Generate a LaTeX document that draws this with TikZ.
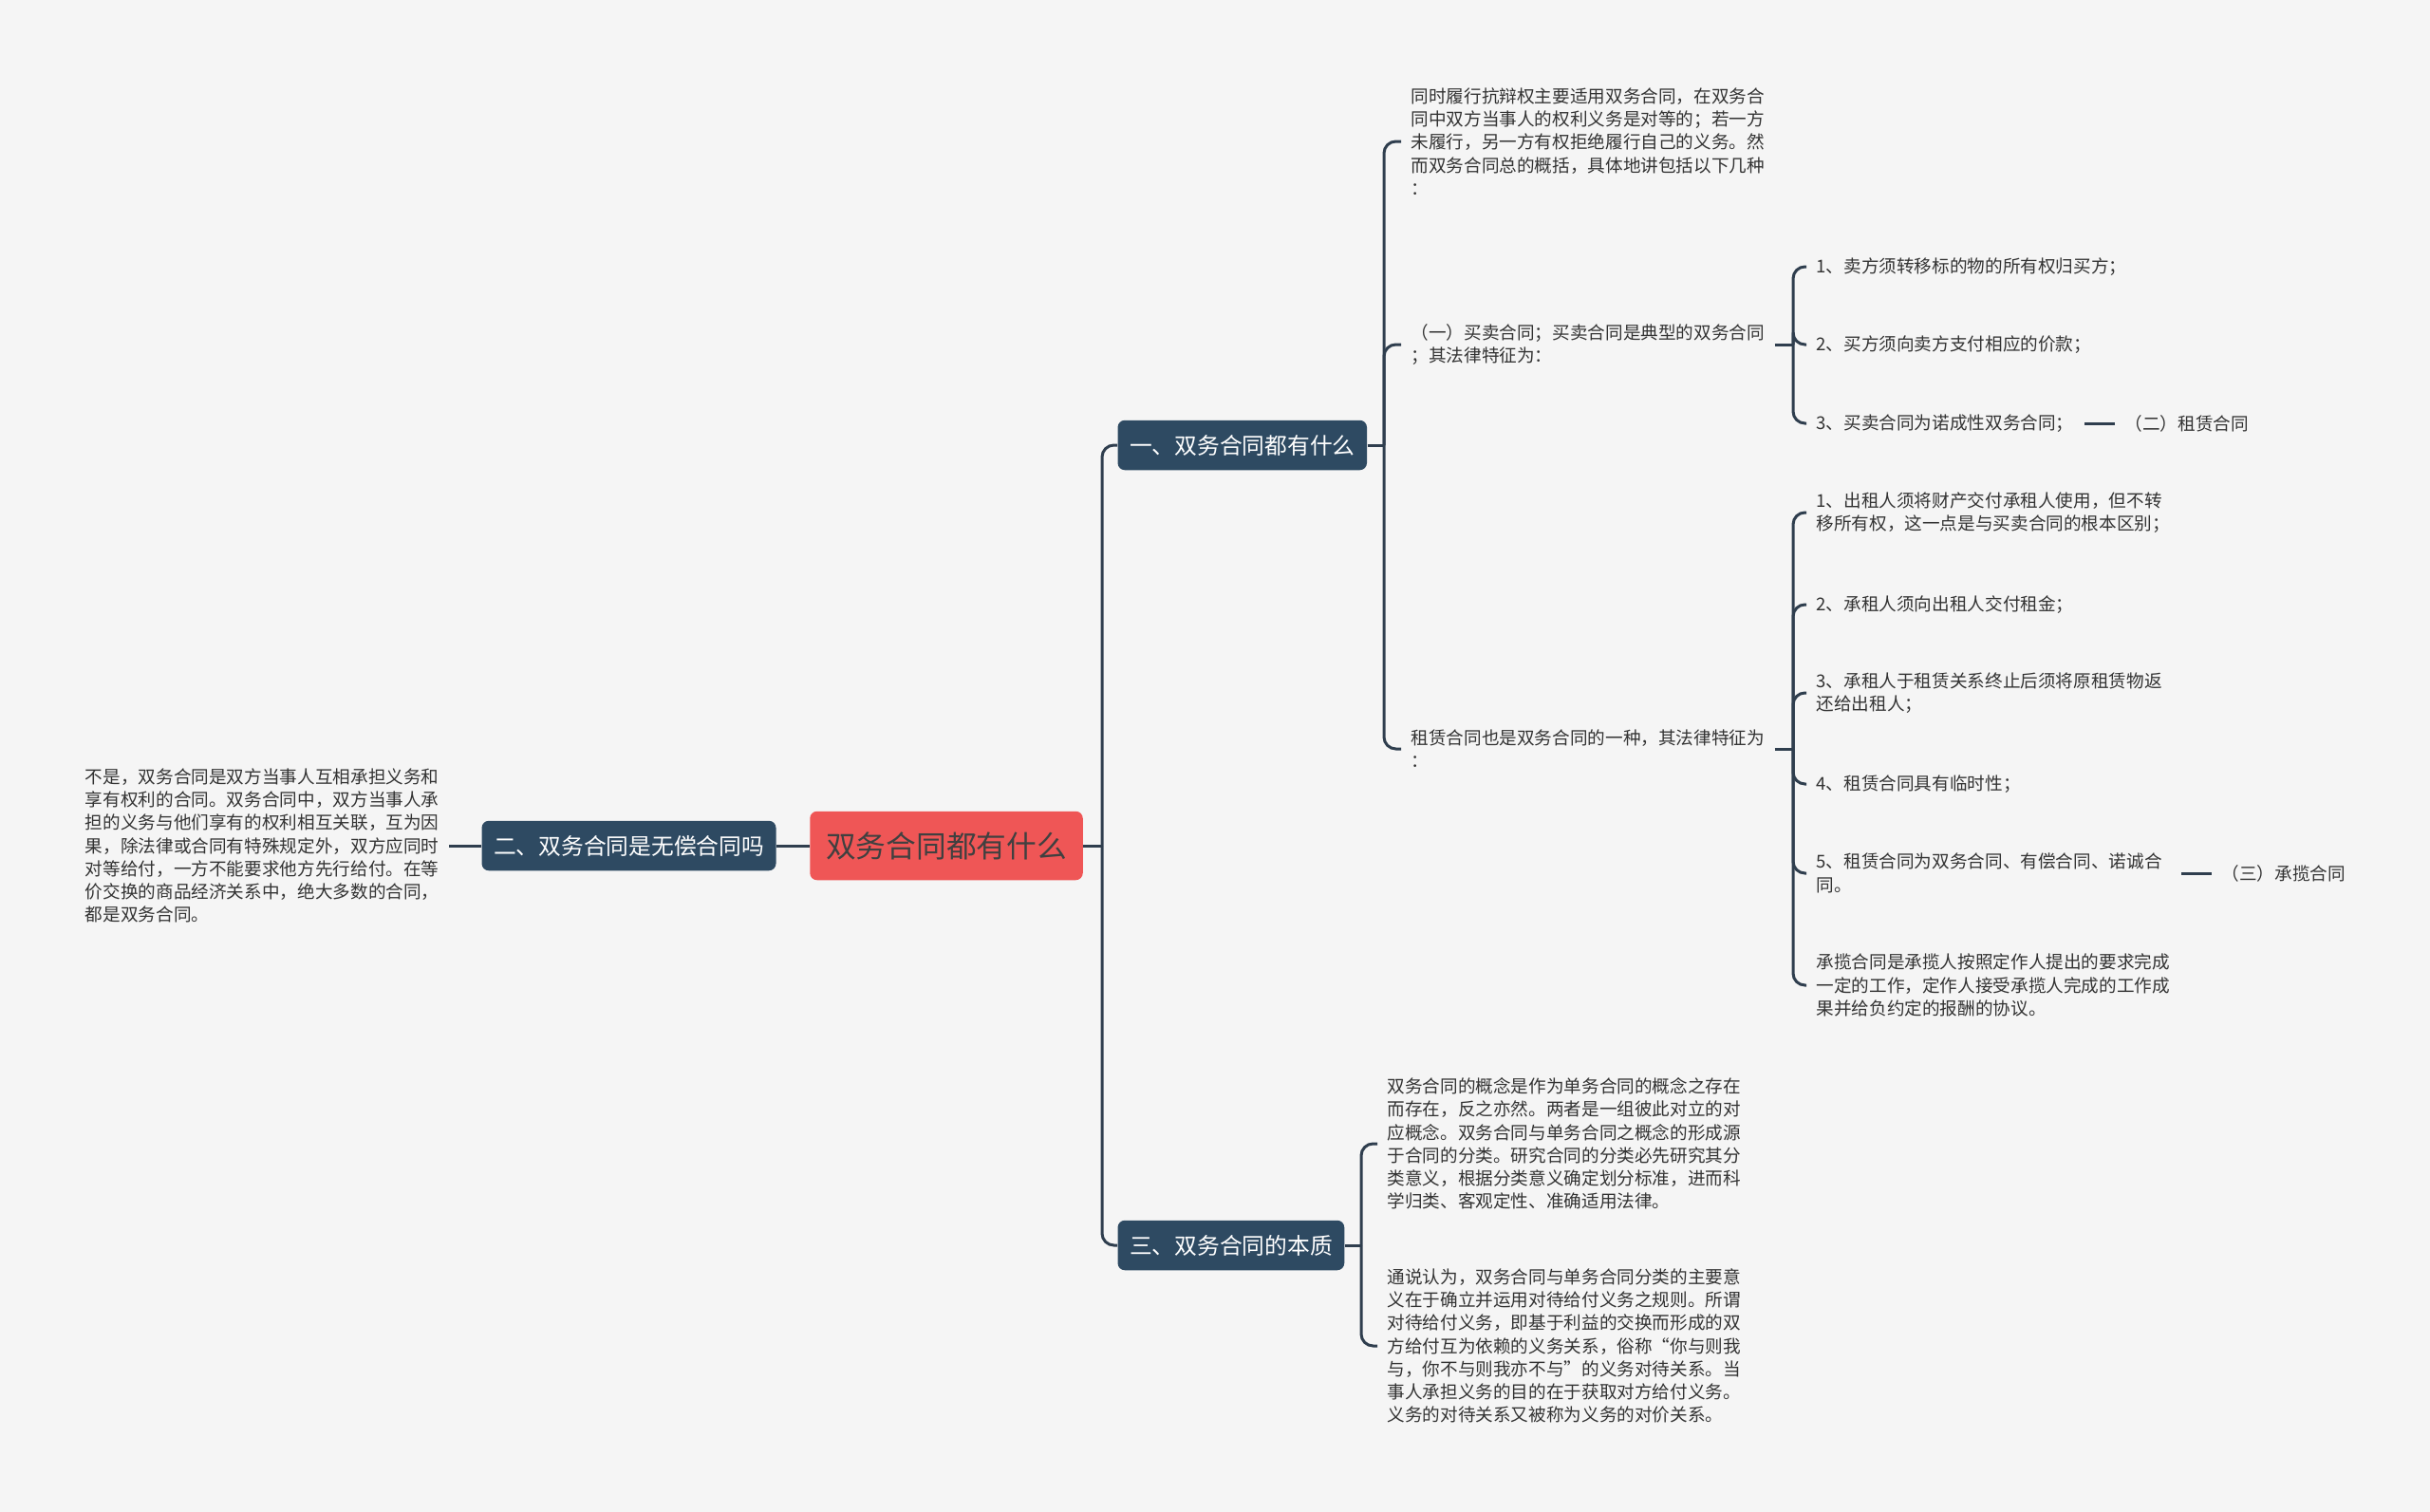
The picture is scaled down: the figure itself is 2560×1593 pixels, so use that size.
\documentclass[tikz,border=0pt]{standalone}
\usepackage{fontspec}
\setmainfont{Noto Sans CJK SC}
\definecolor{bgcol}{HTML}{F5F5F5}
\definecolor{navy}{HTML}{2E4A62}
\definecolor{linecol}{HTML}{2F3E4E}
\definecolor{rootred}{HTML}{EF5656}
\definecolor{txt}{HTML}{333333}

\begin{document}
\begin{tikzpicture}[
    x=0.4pt, y=-0.4pt,
    rootbox/.style={fill=rootred, rounded corners=3pt, text=black!75, minimum width=115pt,
                    minimum height=29pt, font=\fontsize{12.7}{14}\selectfont},
    branchbox/.style={fill=navy, rounded corners=3pt, text=white, minimum height=21pt,
                      inner xsep=5pt, font=\fontsize{9.5}{11}\selectfont},
    leafbox/.style={align=left, text=txt, inner xsep=4pt, inner ysep=1pt,
                    font=\fontsize{7.45}{9.7}\selectfont},
    linkline/.style={draw=linecol, line width=1.2pt, rounded corners=5pt}
]
\useasboundingbox (0,0) rectangle (2560,1593);
\fill[bgcol] (0,0) rectangle (2560,1593);

% centre and main branches
\node[rootbox] (root) at (997,891) {双务合同都有什么};
\node[branchbox, anchor=west] (b1) at (1177,469) {一、双务合同都有什么};
\node[branchbox, anchor=east] (b2) at (818,891) {二、双务合同是无偿合同吗};
\node[branchbox, anchor=west] (b3) at (1177,1312) {三、双务合同的本质};

% branch two
\node[leafbox, anchor=east] (n0) at (473,891) {不是，双务合同是双方当事人互相承担义务和\\享有权利的合同。双务合同中，双方当事人承\\担的义务与他们享有的权利相互关联，互为因\\果，除法律或合同有特殊规定外，双方应同时\\对等给付，一方不能要求他方先行给付。在等\\价交换的商品经济关系中，绝大多数的合同，\\都是双务合同。};

% branch one
\node[leafbox, anchor=west] (a1) at (1476,149) {同时履行抗辩权主要适用双务合同，在双务合\\同中双方当事人的权利义务是对等的；若一方\\未履行，另一方有权拒绝履行自己的义务。然\\而双务合同总的概括，具体地讲包括以下几种\\：};
\node[leafbox, anchor=west] (a2) at (1476,363) {（一）买卖合同；买卖合同是典型的双务合同\\；其法律特征为：};
\node[leafbox, anchor=west] (a3) at (1476,789) {租赁合同也是双务合同的一种，其法律特征为\\：};

\node[leafbox, anchor=west] (s1) at (1903,281) {1、卖方须转移标的物的所有权归买方；};
\node[leafbox, anchor=west] (s2) at (1903,363) {2、买方须向卖方支付相应的价款；};
\node[leafbox, anchor=west] (s3) at (1903,446) {3、买卖合同为诺成性双务合同；};
\node[leafbox, anchor=west] (z2) at (2228,446) {（二）租赁合同};

\node[leafbox, anchor=west] (r1) at (1903,540) {1、出租人须将财产交付承租人使用，但不转\\移所有权，这一点是与买卖合同的根本区别；};
\node[leafbox, anchor=west] (r2) at (1903,637) {2、承租人须向出租人交付租金；};
\node[leafbox, anchor=west] (r3) at (1903,730) {3、承租人于租赁关系终止后须将原租赁物返\\还给出租人；};
\node[leafbox, anchor=west] (r4) at (1903,826) {4、租赁合同具有临时性；};
\node[leafbox, anchor=west] (r5) at (1903,920) {5、租赁合同为双务合同、有偿合同、诺诚合\\同。};
\node[leafbox, anchor=west] (z3) at (2330,920) {（三）承揽合同};
\node[leafbox, anchor=west] (r6) at (1903,1038) {承揽合同是承揽人按照定作人提出的要求完成\\一定的工作，定作人接受承揽人完成的工作成\\果并给负约定的报酬的协议。};

% branch three
\node[leafbox, anchor=west] (d1) at (1451,1205) {双务合同的概念是作为单务合同的概念之存在\\而存在，反之亦然。两者是一组彼此对立的对\\应概念。双务合同与单务合同之概念的形成源\\于合同的分类。研究合同的分类必先研究其分\\类意义，根据分类意义确定划分标准，进而科\\学归类、客观定性、准确适用法律。};
\node[leafbox, anchor=west] (d2) at (1451,1418) {通说认为，双务合同与单务合同分类的主要意\\义在于确立并运用对待给付义务之规则。所谓\\对待给付义务，即基于利益的交换而形成的双\\方给付互为依赖的义务关系，俗称“你与则我\\与，你不与则我亦不与”的义务对待关系。当\\事人承担义务的目的在于获取对方给付义务。\\义务的对待关系又被称为义务的对价关系。};

% junctions
\coordinate (j0) at (1161,891);
\coordinate (j1) at (1458,469);
\coordinate (j2) at (1889,363);
\coordinate (j3) at (1889,789);
\coordinate (j4) at (1434,1312);

% connectors
\draw[linkline] (root.west) -- (b2.east);
\draw[linkline] (b2.west) -- (n0.east);
\draw[linkline] (root.east) -- (j0);
\draw[linkline] (j0) |- (b1.west);
\draw[linkline] (j0) |- (b3.west);

\draw[linkline] (b1.east) -- (j1);
\foreach \n in {a1,a2,a3}
    \draw[linkline] (j1) |- (\n.west);
\draw[linkline] (a2.east) -- (j2);
\foreach \n in {s1,s2,s3}
    \draw[linkline] (j2) |- (\n.west);
\draw[linkline] (a3.east) -- (j3);
\foreach \n in {r1,r2,r3,r4,r5,r6}
    \draw[linkline] (j3) |- (\n.west);
\draw[linkline, shorten <=0.5pt] (s3) -- (z2);
\draw[linkline, shorten <=4pt] (r5) -- (z3);

\draw[linkline] (b3.east) -- (j4);
\foreach \n in {d1,d2}
    \draw[linkline] (j4) |- (\n.west);
\end{tikzpicture}
\end{document}
